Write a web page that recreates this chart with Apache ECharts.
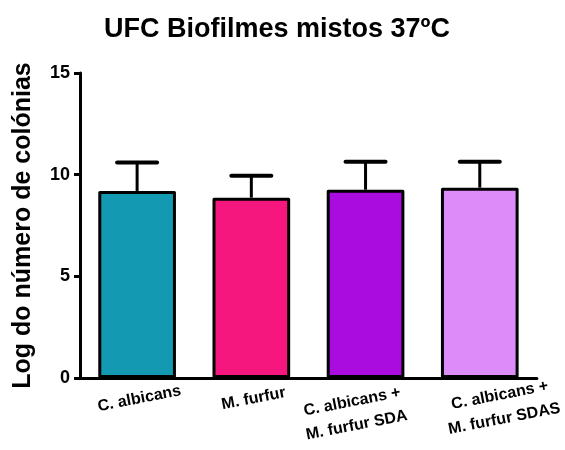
<!DOCTYPE html>
<html><head><meta charset="utf-8">
<script src="https://cdn.jsdelivr.net/npm/echarts@6/dist/echarts.min.js"></script>
<style>html,body{margin:0;padding:0;background:#fff}#c{width:565px;height:450px}</style>
</head><body><div id="c"></div>
<script>
const categories = ['C. albicans', 'M. furfur', 'C. albicans +\nM. furfur SDA', 'C. albicans +\nM. furfur SDAS'];
const means = [9.2, 8.87, 9.26, 9.36];
const errors = [1.4, 1.08, 1.38, 1.28];
const colors = ['#1399B2', '#F5167E', '#AA0BDF', '#DD8BF8'];
const yTicks = [0, 5, 10, 15];

// rich-text style key per category label (horizontal nudges seen in the reference)
const labelStyleKeys = ['n', 'n', 'l', 'r'];

const chart = echarts.init(document.getElementById('c'));
const font = 'Liberation Sans, Arial, sans-serif';
const lblBase = {fontFamily: font, fontWeight: 'bold', fontSize: 16, color: '#000', lineHeight: 24};
chart.setOption({
  animation: false,
  title: {
    text: 'UFC Biofilmes mistos 37ºC', left: 99, top: 11,
    textStyle: {fontFamily: font, fontWeight: 'bold', fontSize: 27, color: '#000'}
  },
  grid: {left: 80, right: 25, top: 73, bottom: 72},
  xAxis: {
    type: 'category', data: categories,
    axisLine: {lineStyle: {color: '#000', width: 3}},
    axisTick: {inside: true, alignWithLabel: true, length: 7, lineStyle: {color: '#000', width: 2}},
    axisLabel: {rotate: 11, align: 'center', verticalAlign: 'top', margin: 9, interval: 0,
      fontFamily: font, fontWeight: 'bold', fontSize: 16, color: '#000', lineHeight: 24,
      formatter: (v, i) => v.split('\n').map(s => '{' + labelStyleKeys[i] + '|' + s + '}').join('\n'),
      rich: {
        n: Object.assign({}, lblBase),
        l: Object.assign({padding: [0, 32, 0, 0]}, lblBase),
        r: Object.assign({padding: [0, 0, 0, 36]}, lblBase)
      }
    }
  },
  yAxis: {
    type: 'value', min: 0, max: 15, interval: 5,
    name: 'Log do número de colónias', nameLocation: 'middle', nameGap: 44,
    nameTextStyle: {fontFamily: font, fontWeight: 'bold', fontSize: 25, color: '#000'},
    axisLine: {show: true, lineStyle: {color: '#000', width: 3}},
    axisTick: {show: true, length: 6, lineStyle: {color: '#000', width: 3}},
    splitLine: {show: false},
    axisLabel: {margin: 10, fontFamily: font, fontWeight: 'bold', fontSize: 18, color: '#000',
      formatter: v => yTicks.includes(v) ? String(v) : ''}
  },
  series: [{
    type: 'bar', barWidth: '68%',
    data: means.map((v, i) => ({value: v, itemStyle: {color: colors[i]}})),
    itemStyle: {borderColor: '#000', borderWidth: 3, borderJoin: 'round'},
    z: 2
  }, {
    type: 'custom', z: 3,
    data: means.map((v, i) => [i, v, v + errors[i]]),
    renderItem: (params, api) => {
      const p0 = api.coord([api.value(0), api.value(1)]);
      const p1 = api.coord([api.value(0), api.value(2)]);
      const hw = 20;
      return {type: 'group', children: [
        {type: 'line', shape: {x1: p0[0], y1: p0[1], x2: p1[0], y2: p1[1]}, style: {stroke: '#000', lineWidth: 3}},
        {type: 'line', shape: {x1: p1[0] - hw, y1: p1[1], x2: p1[0] + hw, y2: p1[1]}, style: {stroke: '#000', lineWidth: 4, lineCap: 'round'}}
      ]};
    }
  }]
});
</script></body></html>
